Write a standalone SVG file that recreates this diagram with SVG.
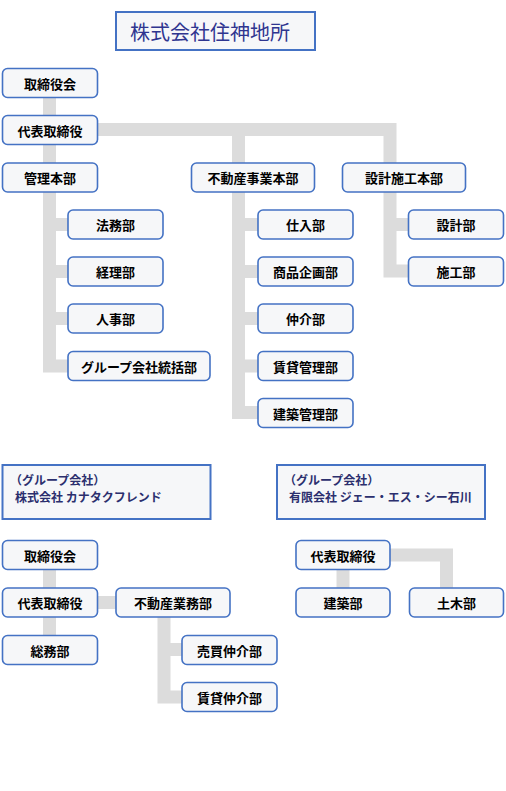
<svg xmlns="http://www.w3.org/2000/svg" width="506" height="791" viewBox="0 0 506 791">
<style>
.c{fill:none;stroke:#dcdcdc;stroke-width:13;stroke-linejoin:miter;stroke-linecap:butt}
.n rect{fill:#f6f7f9;stroke:#4472c4;stroke-width:1.6}
.n text{font-family:"Noto Sans CJK JP","Noto Sans",sans-serif;font-size:13px;font-weight:bold;fill:#000;text-anchor:middle;dominant-baseline:central}
.g rect{fill:#f6f7f9;stroke:#4472c4;stroke-width:2}
.g text{font-family:"Noto Sans CJK JP","Noto Sans",sans-serif;font-size:12px;font-weight:bold;fill:#2b2f6e}
</style>
<rect width="506" height="791" fill="#fff"/>
<g id="connectors">
<path class="c" d="M49.5,97 V366 H68"/>
<path class="c" d="M49.5,224.5 H68 M49.5,271.5 H68 M49.5,318.5 H68"/>
<path class="c" d="M97,129.5 H390 V163"/>
<path class="c" d="M238.5,136 V412.5 H258"/>
<path class="c" d="M238.5,224.5 H258 M238.5,271.5 H258 M238.5,318.5 H258 M238.5,366 H258"/>
<path class="c" d="M390,192 V271 H408.5"/>
<path class="c" d="M390,224.5 H408.5"/>
<path class="c" d="M49.5,569 V636"/>
<path class="c" d="M97,602.5 H116"/>
<path class="c" d="M164,617 V697 H182"/>
<path class="c" d="M164,649.5 H182"/>
<path class="c" d="M343,569 V588"/>
<path class="c" d="M390,555 H446.5 V588"/>
</g>
<g id="title" class="g"><rect x="116" y="12" width="199" height="38"/><text x="130" y="31" style="font-size:20px;font-weight:normal;fill:#2f3590;dominant-baseline:central">株式会社住神地所</text></g>
<g id="t1" class="n"><rect x="2.5" y="68.5" width="95" height="29" rx="5"/><text x="50" y="83">取締役会</text></g>
<g id="t2" class="n"><rect x="2.5" y="115.5" width="95" height="29" rx="5"/><text x="50" y="130">代表取締役</text></g>
<g id="t3" class="n"><rect x="2.5" y="163" width="95" height="29" rx="5"/><text x="50" y="177.5">管理本部</text></g>
<g id="t4" class="n"><rect x="191.5" y="163" width="123" height="29" rx="5"/><text x="253" y="177.5">不動産事業本部</text></g>
<g id="t5" class="n"><rect x="342.5" y="163" width="123" height="29" rx="5"/><text x="404" y="177.5">設計施工本部</text></g>
<g id="t6" class="n"><rect x="68" y="210" width="95" height="29" rx="5"/><text x="115.5" y="224.5">法務部</text></g>
<g id="t7" class="n"><rect x="68" y="257" width="95" height="29" rx="5"/><text x="115.5" y="271.5">経理部</text></g>
<g id="t8" class="n"><rect x="68" y="304" width="95" height="29" rx="5"/><text x="115.5" y="318.5">人事部</text></g>
<g id="t9" class="n"><rect x="68" y="351.5" width="142" height="29" rx="5"/><text x="139" y="366">グループ会社統括部</text></g>
<g id="t10" class="n"><rect x="258" y="210" width="95" height="29" rx="5"/><text x="305.5" y="224.5">仕入部</text></g>
<g id="t11" class="n"><rect x="258" y="257" width="95" height="29" rx="5"/><text x="305.5" y="271.5">商品企画部</text></g>
<g id="t12" class="n"><rect x="258" y="304" width="95" height="29" rx="5"/><text x="305.5" y="318.5">仲介部</text></g>
<g id="t13" class="n"><rect x="258" y="351.5" width="95" height="29" rx="5"/><text x="305.5" y="366">賃貸管理部</text></g>
<g id="t14" class="n"><rect x="258" y="398.5" width="95" height="29" rx="5"/><text x="305.5" y="413">建築管理部</text></g>
<g id="t15" class="n"><rect x="408.5" y="210" width="95" height="29" rx="5"/><text x="456" y="224.5">設計部</text></g>
<g id="t16" class="n"><rect x="408.5" y="257" width="95" height="29" rx="5"/><text x="456" y="271.5">施工部</text></g>
<g id="grp1" class="g"><rect x="2.5" y="465" width="208" height="54"/><text x="10" y="484.5">（グループ会社）</text><text x="15" y="502">株式会社 カナタクフレンド</text></g>
<g id="grp2" class="g"><rect x="277" y="465" width="208" height="54"/><text x="284" y="484.5">（グループ会社）</text><text x="289" y="502">有限会社 ジェー・エス・シー石川</text></g>
<g id="b1" class="n"><rect x="2.5" y="540.5" width="95" height="29" rx="5"/><text x="50" y="555">取締役会</text></g>
<g id="b2" class="n"><rect x="2.5" y="588" width="95" height="29" rx="5"/><text x="50" y="602.5">代表取締役</text></g>
<g id="b3" class="n"><rect x="2.5" y="635.5" width="95" height="29" rx="5"/><text x="50" y="650">総務部</text></g>
<g id="b4" class="n"><rect x="116" y="588" width="114" height="29" rx="5"/><text x="173" y="602.5">不動産業務部</text></g>
<g id="b5" class="n"><rect x="182" y="635.5" width="95" height="29" rx="5"/><text x="229.5" y="650">売買仲介部</text></g>
<g id="b6" class="n"><rect x="182" y="682.5" width="95" height="29" rx="5"/><text x="229.5" y="697">賃貸仲介部</text></g>
<g id="r1" class="n"><rect x="296" y="540.5" width="94" height="29" rx="5"/><text x="343" y="555">代表取締役</text></g>
<g id="r2" class="n"><rect x="296" y="588" width="94" height="29" rx="5"/><text x="343" y="602.5">建築部</text></g>
<g id="r3" class="n"><rect x="409.5" y="588" width="94" height="29" rx="5"/><text x="456.5" y="602.5">土木部</text></g>
</svg>
